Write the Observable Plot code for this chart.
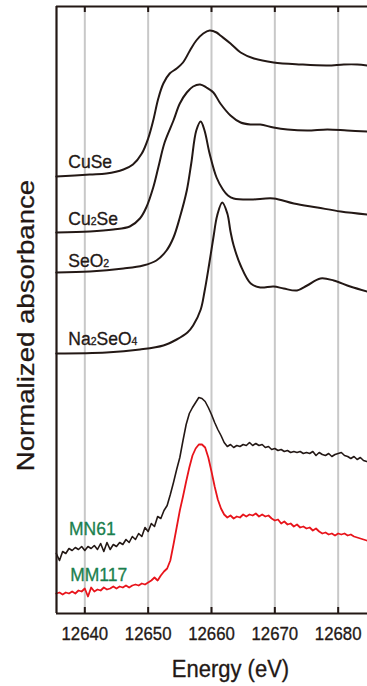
<!DOCTYPE html>
<html><head><meta charset="utf-8">
<script src="https://cdn.jsdelivr.net/npm/d3@7"></script>
<script src="https://cdn.jsdelivr.net/npm/@observablehq/plot@0.6"></script>
<style>html,body{margin:0;padding:0;background:#fff}svg{display:block}</style>
</head><body><div id="chart"></div>
<script>
// ---- reference spectra (energy in eV, offset normalized absorbance) ----
const cuseE = [12635.5,12640.8,12643.4,12646.1,12647.6,12649.0,12650.0,12650.8,12651.6,12652.4,12653.4,12654.5,12655.5,12656.6,12657.6,12658.7,12659.7,12660.8,12661.4,12663.0,12664.6,12666.7,12669.8,12674.1,12678.3,12680.9,12683.0,12684.6];
const cuseA = [4.37,4.39,4.40,4.44,4.49,4.60,4.75,4.93,5.15,5.30,5.40,5.45,5.51,5.63,5.73,5.80,5.83,5.81,5.78,5.70,5.61,5.55,5.51,5.49,5.48,5.49,5.49,5.48];

const cu2seE = [12635.5,12640.8,12644.5,12647.1,12648.7,12649.7,12650.8,12651.6,12652.6,12654.0,12655.0,12656.1,12657.1,12658.2,12659.2,12660.3,12661.4,12663.0,12664.6,12666.2,12667.7,12669.8,12672.0,12675.1,12678.3,12681.4,12684.6];
const cu2seA = [3.81,3.82,3.84,3.87,3.95,4.06,4.26,4.46,4.71,4.93,5.10,5.21,5.27,5.29,5.26,5.21,5.10,4.98,4.91,4.89,4.89,4.86,4.84,4.83,4.84,4.83,4.82];

const seo2E = [12635.5,12640.8,12646.1,12649.2,12651.3,12652.9,12654.0,12655.0,12656.1,12656.8,12657.6,12658.3,12658.9,12659.7,12660.8,12661.8,12662.6,12663.5,12666.2,12669.8,12673.0,12676.7,12680.4,12684.6];
const seo2A = [3.41,3.42,3.45,3.48,3.53,3.63,3.76,3.96,4.23,4.50,4.83,4.92,4.83,4.60,4.36,4.24,4.18,4.15,4.14,4.15,4.10,4.06,4.02,3.99];

const na2seo4E = [12635.5,12643.4,12648.7,12652.4,12654.5,12656.2,12657.1,12658.3,12658.9,12659.6,12660.3,12660.9,12661.7,12662.5,12663.0,12663.5,12664.6,12666.2,12667.7,12669.8,12671.4,12673.5,12675.1,12677.2,12679.3,12681.9,12684.6];
const na2seo4A = [2.60,2.61,2.64,2.68,2.74,2.81,2.88,3.04,3.22,3.48,3.76,3.98,4.11,4.00,3.82,3.68,3.48,3.30,3.26,3.27,3.25,3.23,3.28,3.35,3.33,3.27,3.22];

// ---- sample spectra (shared energy grid) ----
const sampleE = [12635.5,12636.0,12636.5,12637.0,12637.5,12638.0,12638.5,12639.0,12639.5,12640.0,
12640.5,12641.0,12641.5,12642.0,12642.5,12643.0,12643.5,12644.0,12644.5,12645.0,
12645.5,12646.0,12646.5,12647.0,12647.5,12648.0,12648.5,12649.0,12649.5,12650.0,
12650.5,12651.0,12651.5,12652.0,12652.5,12653.0,12653.5,12654.0,12654.5,12655.0,
12655.5,12656.0,12656.5,12657.0,12657.5,12658.0,12658.5,12659.0,12659.5,12660.0,
12660.5,12661.0,12661.5,12662.0,12662.5,12663.0,12663.5,12664.0,12664.5,12665.0,
12665.5,12666.0,12666.5,12667.0,12667.5,12668.0,12668.5,12669.0,12669.5,12670.0,
12670.5,12671.0,12671.5,12672.0,12672.5,12673.0,12673.5,12674.0,12674.5,12675.0,
12675.5,12676.0,12676.5,12677.0,12677.5,12678.0,12678.5,12679.0,12679.5,12680.0,
12680.5,12681.0,12681.5,12682.0,12682.5,12683.0,12683.5,12684.0,12684.5];
const mn61A = [0.60,0.53,0.62,0.60,0.65,0.63,0.66,0.64,0.67,0.63,
0.67,0.65,0.68,0.64,0.70,0.62,0.71,0.64,0.69,0.67,
0.71,0.69,0.74,0.71,0.77,0.74,0.80,0.77,0.86,0.82,
0.90,0.87,0.97,0.95,1.03,1.08,1.19,1.31,1.44,1.56,
1.73,1.89,2.00,2.06,2.11,2.16,2.15,2.12,2.06,1.99,
1.91,1.84,1.78,1.71,1.67,1.69,1.66,1.68,1.67,1.69,
1.68,1.71,1.68,1.70,1.68,1.69,1.66,1.67,1.64,1.65,
1.63,1.64,1.62,1.63,1.61,1.62,1.61,1.62,1.60,1.61,
1.60,1.62,1.58,1.61,1.59,1.58,1.60,1.57,1.59,1.60,
1.61,1.58,1.57,1.55,1.57,1.54,1.56,1.53,1.52];
const mm117A = [0.20,0.21,0.19,0.21,0.20,0.22,0.20,0.23,0.22,0.25,
0.17,0.26,0.22,0.24,0.23,0.26,0.24,0.25,0.27,0.25,
0.27,0.26,0.28,0.26,0.28,0.29,0.28,0.30,0.29,0.31,
0.33,0.36,0.33,0.38,0.42,0.45,0.53,0.69,0.86,1.03,
1.17,1.32,1.46,1.58,1.65,1.69,1.69,1.66,1.56,1.42,
1.27,1.14,1.05,0.99,0.96,0.98,0.95,0.97,0.96,0.99,
0.97,0.99,0.98,1.00,0.97,0.99,0.97,0.98,0.95,0.93,
0.94,0.90,0.92,0.89,0.90,0.87,0.89,0.86,0.87,0.85,
0.86,0.83,0.85,0.82,0.80,0.81,0.79,0.80,0.78,0.80,
0.79,0.80,0.78,0.79,0.77,0.76,0.75,0.74,0.73];

// ---- labels and ticks ----
const labelNames = ["CuSe","Cu₂Se","SeO₂","Na₂SeO₄","MN61","MM117"];
const labelE = [12637.4,12637.4,12637.4,12637.4,12637.5,12637.7];
const labelA = [4.46,3.89,3.47,2.69,0.79,0.33];
const labelColor = ["ref","ref","ref","ref","sample","sample"];
const tickEnergies = [12640,12650,12660,12670,12680];
const tickLabels = ["12640","12650","12660","12670","12680"];
const xDomain = [12635.53,12684.63];
const yDomain = [0,6.07];

// ---- layout ----
const W = 367, H = 686, ML = 56, MR = 0, MT = 6, MB = 73;
const tickLen = 6 * (yDomain[1] - yDomain[0]) / (H - MT - MB); // 6px expressed in y units

// ---- build ----
const BLACK = "#231815", RED = "#e8141b", GREEN = "#1b7f4e";
const toRows = (E, A) => E.map((e, i) => ({e, a: A[i]}));
const smooth = [[cuseE,cuseA],[cu2seE,cu2seA],[seo2E,seo2A],[na2seo4E,na2seo4A]];
const labels = labelNames.map((n, i) => ({n, e: labelE[i], a: labelA[i], c: labelColor[i] === "ref" ? BLACK : GREEN}));
const ticks = tickEnergies.map((e, i) => ({e, t: tickLabels[i]}));

const chart = Plot.plot({
  width: W, height: H,
  marginLeft: ML, marginRight: MR, marginTop: MT, marginBottom: MB,
  x: {domain: xDomain, axis: null},
  y: {domain: yDomain, axis: null},
  style: {fontFamily: "'Liberation Sans', Arial, Helvetica, sans-serif", color: BLACK, background: "#fff", overflow: "visible"},
  marks: [
    Plot.ruleX(tickEnergies, {stroke: "#c8c8c8", strokeWidth: 2}),
    ...smooth.map(([E, A]) => Plot.line(toRows(E, A), {x: "e", y: "a", stroke: BLACK, strokeWidth: 2, curve: "catmull-rom"})),
    Plot.line(toRows(sampleE, mn61A), {x: "e", y: "a", stroke: BLACK, strokeWidth: 1.6}),
    Plot.line(toRows(sampleE, mm117A), {x: "e", y: "a", stroke: RED, strokeWidth: 1.8}),
    Plot.text(labels, {x: "e", y: "a", text: "n", fill: "c", stroke: "c", strokeWidth: 0.3, textAnchor: "start", lineAnchor: "bottom", fontSize: 17.5}),
    Plot.ruleX([xDomain[0]], {stroke: BLACK, strokeWidth: 2.2}),
    Plot.ruleY(yDomain, {stroke: BLACK, strokeWidth: 2}),
    Plot.ruleX(tickEnergies, {y1: yDomain[0], y2: yDomain[0] + tickLen, stroke: BLACK, strokeWidth: 2}),
    Plot.ruleX(tickEnergies, {y1: yDomain[1] - tickLen, y2: yDomain[1], stroke: BLACK, strokeWidth: 2}),
    Plot.text(ticks, {x: "e", text: "t", frameAnchor: "bottom", textAnchor: "middle", lineAnchor: "top", dy: 13, fontSize: 16.8, fill: BLACK, stroke: BLACK, strokeWidth: 0.3}),
    Plot.text(["Energy (eV)"], {frameAnchor: "bottom", textAnchor: "middle", lineAnchor: "bottom", dx: 18.5, dy: 63, fontSize: 22, fill: BLACK, stroke: BLACK, strokeWidth: 0.3}),
    Plot.text(["Normalized absorbance"], {frameAnchor: "left", textAnchor: "middle", rotate: -90, lineAnchor: "bottom", dx: -22.7, dy: 15.5, fontSize: 23, fill: BLACK, stroke: BLACK, strokeWidth: 0.3})
  ]
});

// post-process: subscripts, explicit tick font size, slight glyph stretch to match reference proportions
const NS = "http://www.w3.org/2000/svg";
chart.querySelectorAll("text").forEach(t => {
  const s = t.textContent;
  if (tickLabels.includes(s)) t.style.fontSize = "16.8px";
  if (/[\u2080-\u2089]/.test(s)) {
    t.textContent = "";
    for (const part of s.match(/[\u2080-\u2089]+|[^\u2080-\u2089]+/g)) {
      const sp = document.createElementNS(NS, "tspan");
      if (/[\u2080-\u2089]/.test(part)) {
        sp.textContent = part.replace(/[\u2080-\u2089]/g, c => String(c.charCodeAt(0) - 0x2080));
        sp.setAttribute("style", "font-size:0.6em");
      } else sp.textContent = part;
      t.appendChild(sp);
    }
  }
  let tr = t.getAttribute("transform");
  if (!tr) {
    const x = t.getAttribute("x") || 0, y = t.getAttribute("y") || 0;
    t.removeAttribute("x"); t.removeAttribute("y");
    tr = `translate(${x},${y})`;
  }
  tr += /rotate/.test(tr) ? " scale(1.2,1)" : " scale(1,1.1)";
  t.setAttribute("transform", tr);
});
document.getElementById("chart").appendChild(chart);
</script>
</body></html>
